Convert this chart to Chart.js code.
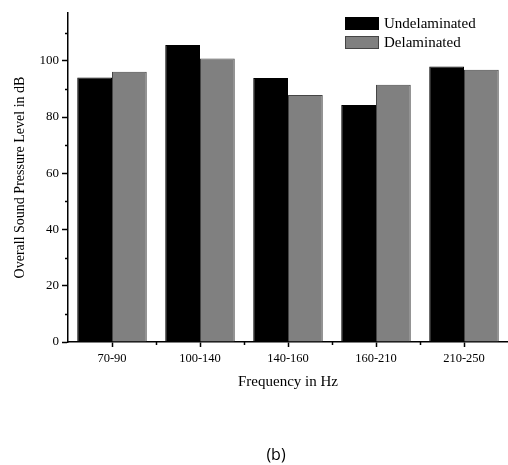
<!DOCTYPE html>
<html>
<head>
<meta charset="utf-8">
<script src="https://cdn.jsdelivr.net/npm/chart.js@4"></script>
<style>
  html, body { margin: 0; padding: 0; background: #fff; }
  #wrap { width: 508px; height: 465px; position: relative; }
</style>
</head>
<body>
<div id="wrap"><canvas id="chart"></canvas></div>
<script>
const categories = ['70-90', '100-140', '140-160', '160-210', '210-250'];
const undelaminated = [94.1, 105.6, 93.9, 84.3, 98.0];
const delaminated = [96.1, 100.8, 87.8, 91.5, 96.8];
const yMinorTicks = [10, 30, 50, 70, 90, 110];

const serif = '"Liberation Serif", "Times New Roman", serif';

// minor ticks, legend inside the plot and the "(b)" caption
const extras = {
  id: 'extras',
  afterDraw(chart) {
    const { ctx, scales: { x, y } } = chart;
    ctx.save();
    ctx.strokeStyle = '#000';
    ctx.lineWidth = 1.5;
    yMinorTicks.forEach(v => {
      const py = Math.round(y.getPixelForValue(v)) + 0.5;
      ctx.beginPath();
      ctx.moveTo(x.left - 3, py);
      ctx.lineTo(x.left, py);
      ctx.stroke();
    });
    for (let i = 0; i < categories.length - 1; i++) {
      const px = Math.round((x.getPixelForValue(i) + x.getPixelForValue(i + 1)) / 2) + 0.5;
      ctx.beginPath();
      ctx.moveTo(px, y.bottom);
      ctx.lineTo(px, y.bottom + 3);
      ctx.stroke();
    }

    chart.data.datasets.forEach((ds, i) => {
      const top = 17 + i * 19;
      ctx.fillStyle = ds.backgroundColor;
      ctx.fillRect(345, top, 34, 13);
      ctx.strokeStyle = ds.borderColor;
      ctx.lineWidth = 1;
      ctx.strokeRect(345.5, top + 0.5, 33, 12);
      ctx.fillStyle = '#000';
      ctx.font = '15px ' + serif;
      ctx.textBaseline = 'middle';
      ctx.textAlign = 'left';
      ctx.fillText(ds.label, 384, top + 7);
    });

    ctx.font = '16px "Open Sans", sans-serif';
    ctx.textAlign = 'center';
    ctx.textBaseline = 'middle';
    ctx.fillStyle = '#000';
    ctx.fillText('(b)', 276, 455);
    ctx.restore();
  }
};

new Chart(document.getElementById('chart'), {
  type: 'bar',
  data: {
    labels: categories,
    datasets: [
      {
        label: 'Undelaminated',
        data: undelaminated,
        backgroundColor: '#000000',
        borderColor: '#000000',
        borderWidth: 1,
        categoryPercentage: 0.79,
        barPercentage: 1.0
      },
      {
        label: 'Delaminated',
        data: delaminated,
        backgroundColor: '#808080',
        borderColor: '#454545',
        borderWidth: 1,
        categoryPercentage: 0.79,
        barPercentage: 1.0
      }
    ]
  },
  options: {
    responsive: true,
    maintainAspectRatio: false,
    animation: false,
    devicePixelRatio: 1,
    layout: { padding: { top: 13, left: 0, right: 0, bottom: 74 } },
    plugins: {
      legend: { display: false },
      tooltip: { enabled: false }
    },
    scales: {
      x: {
        offset: true,
        grid: { offset: false, drawOnChartArea: false, tickLength: 5, tickColor: '#000', tickWidth: 1.5 },
        border: { color: '#000', width: 1.5 },
        ticks: { color: '#000', font: { family: serif, size: 12.5 }, padding: 4, maxRotation: 0 },
        title: {
          display: true,
          text: 'Frequency in Hz',
          color: '#000',
          font: { family: serif, size: 15 },
          padding: { top: 0, bottom: 0 }
        },
        afterFit: s => { s.height = 49; }
      },
      y: {
        min: 0,
        max: 117,
        grid: { drawOnChartArea: false, tickLength: 6, tickColor: '#000', tickWidth: 1.5 },
        border: { color: '#000', width: 1.5 },
        ticks: {
          stepSize: 20,
          includeBounds: false,
          color: '#000',
          font: { family: serif, size: 13 },
          padding: 3
        },
        title: {
          display: true,
          text: 'Overall Sound Pressure Level in dB',
          color: '#000',
          font: { family: serif, size: 14 },
          padding: { top: 12, bottom: 0 }
        },
        afterFit: s => { s.width = 68; }
      }
    }
  },
  plugins: [extras]
});
</script>
</body>
</html>
